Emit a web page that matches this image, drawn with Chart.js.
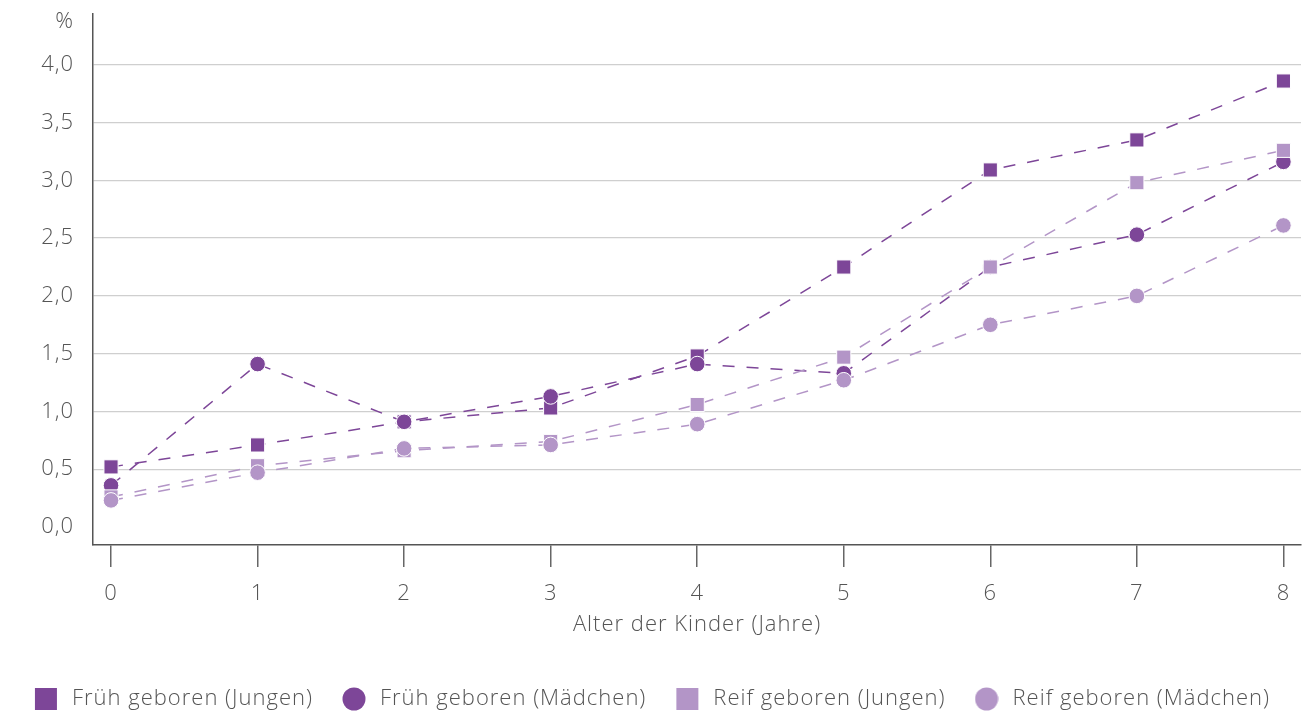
<!DOCTYPE html>
<html>
<head>
<meta charset="utf-8">
<script src="https://cdn.jsdelivr.net/npm/chart.js@4.4.0/dist/chart.umd.min.js"></script>
<style>
  html, body { margin: 0; padding: 0; background: #fff; }
  #wrap { width: 1306px; height: 715px; }
</style>
</head>
<body>
<div id="wrap"><canvas id="chart"></canvas></div>
<script>
const ages = [0, 1, 2, 3, 4, 5, 6, 7, 8];
const yTicks = [0, 0.5, 1, 1.5, 2, 2.5, 3, 3.5, 4];

const fruehJungen = [0.52, 0.71, 0.91, 1.03, 1.48, 2.25, 3.09, 3.35, 3.86];
const fruehMaedchen = [0.36, 1.41, 0.91, 1.13, 1.41, 1.33, 2.25, 2.53, 3.16];
const reifJungen = [0.26, 0.53, 0.66, 0.74, 1.06, 1.47, 2.25, 2.98, 3.26];
const reifMaedchen = [0.23, 0.47, 0.68, 0.71, 0.89, 1.27, 1.75, 2.0, 2.61];

const dark = "#7d4698";
const light = "#b395c7";
const textColor = "#555";
const font = "'Open Sans'";
const fontSize = 22;

function legendIcon(shape, color) {
  const c = document.createElement("canvas");
  c.width = 24;
  c.height = 24;
  const g = c.getContext("2d");
  g.fillStyle = color;
  if (shape === "rect") {
    g.fillRect(1, 1, 22, 22);
  } else {
    g.beginPath();
    g.arc(12, 12, 11.5, 0, Math.PI * 2);
    g.fill();
  }
  return c;
}

function series(label, values, color, style, order) {
  return {
    label: label,
    data: values.map((v, i) => ({ x: ages[i], y: v })),
    borderColor: color,
    backgroundColor: color,
    borderWidth: 1.5,
    borderDash: [12, 12],
    pointStyle: style,
    pointRadius: style === "rect" ? 10 : 7.8,
    pointBorderColor: "#fff",
    pointBorderWidth: 1,
    pointBackgroundColor: color,
    legendIcon: legendIcon(style, color),
    order: order,
  };
}

// the reference type is a bit wider than Open Sans
const spacing = {
  id: "spacing",
  beforeLayout(chart) {
    chart.ctx.letterSpacing = "1px";
  },
  beforeDraw(chart) {
    chart.ctx.letterSpacing = "1px";
  },
};

const percentLabel = {
  id: "percentLabel",
  afterDraw(chart) {
    const ctx = chart.ctx;
    ctx.save();
    ctx.font = `300 ${fontSize}px ${font}`;
    ctx.fillStyle = textColor;
    ctx.textAlign = "right";
    ctx.textBaseline = "middle";
    ctx.fillText("%", 74, 22);
    ctx.restore();
  },
};

const tickFont = { family: font, size: fontSize, weight: 300 };

new Chart(document.getElementById("chart"), {
  type: "line",
  data: {
    datasets: [
      series("Früh geboren (Jungen)", fruehJungen, dark, "rect", 4),
      series("Früh geboren (Mädchen)", fruehMaedchen, dark, "circle", 3),
      series("Reif geboren (Jungen)", reifJungen, light, "rect", 2),
      series("Reif geboren (Mädchen)", reifMaedchen, light, "circle", 1),
    ],
  },
  options: {
    responsive: true,
    maintainAspectRatio: false,
    animation: false,
    layout: {
      autoPadding: false,
      padding: { top: 14, right: 5, left: 0, bottom: -5 },
    },
    plugins: {
      tooltip: { enabled: false },
      legend: {
        position: "bottom",
        labels: {
          usePointStyle: true,
          pointStyleWidth: 30,
          color: textColor,
          font: { family: font, size: fontSize, weight: 300, lineHeight: 1 },
          padding: 26,
          generateLabels(chart) {
            return chart.data.datasets.map((ds, i) => ({
              text: ds.label,
              pointStyle: ds.legendIcon,
              fillStyle: ds.backgroundColor,
              strokeStyle: ds.backgroundColor,
              lineWidth: 0,
              fontColor: textColor,
              hidden: false,
              datasetIndex: i,
            }));
          },
        },
      },
    },
    scales: {
      x: {
        type: "linear",
        min: -0.123,
        max: 8.12,
        afterBuildTicks(scale) {
          scale.ticks = ages.map((v) => ({ value: v }));
        },
        afterFit(scale) {
          scale.height = 117;
          scale.paddingLeft = 0;
          scale.paddingRight = 0;
        },
        ticks: {
          color: textColor,
          font: tickFont,
          padding: 14,
          callback: (v) => String(v),
        },
        grid: {
          drawOnChartArea: false,
          drawTicks: true,
          tickLength: 22,
          color: "#666",
          lineWidth: 1.5,
        },
        border: { color: "#555", width: 1.5 },
        title: {
          display: true,
          text: "Alter der Kinder (Jahre)",
          color: textColor,
          font: tickFont,
          padding: { top: 0, bottom: 24 },
        },
      },
      y: {
        min: -0.156,
        max: 4.44,
        afterBuildTicks(scale) {
          scale.ticks = yTicks.map((v) => ({ value: v }));
        },
        afterFit(scale) {
          scale.width = 93;
          scale.paddingTop = 0;
          scale.paddingBottom = 0;
        },
        ticks: {
          color: textColor,
          font: tickFont,
          padding: 19,
          callback: (v) => v.toFixed(1).replace(".", ","),
        },
        grid: {
          drawTicks: false,
          color: (c) => (c.tick && c.tick.value === 0 ? "rgba(0,0,0,0)" : "#cfcfcf"),
          lineWidth: 1.3,
        },
        border: { color: "#555", width: 1.5 },
      },
    },
  },
  plugins: [spacing, percentLabel],
});
</script>
</body>
</html>
